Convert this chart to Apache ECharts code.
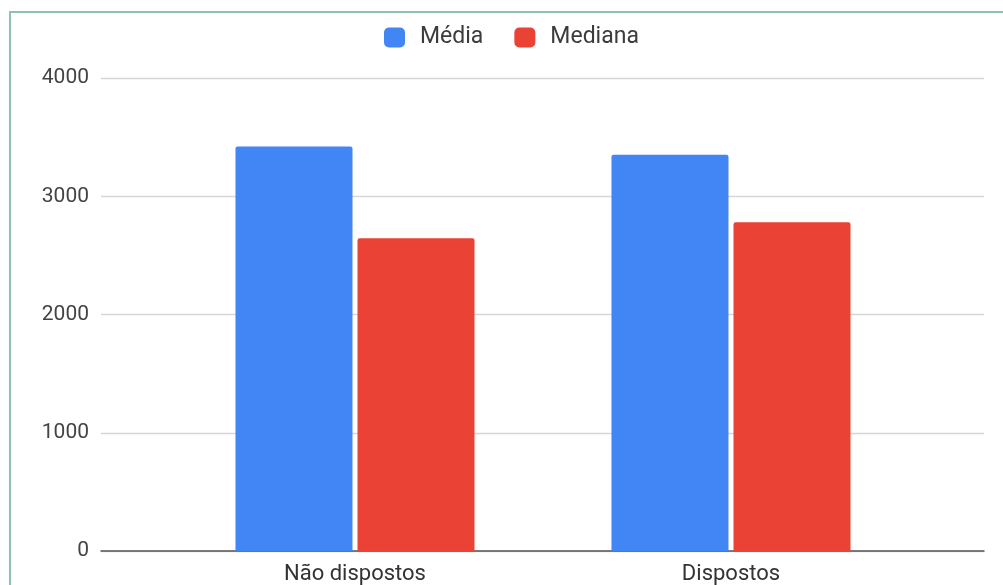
<!DOCTYPE html>
<html>
<head>
<meta charset="utf-8">
<script src="https://cdn.jsdelivr.net/npm/echarts@6/dist/echarts.min.js"></script>
<style>
  html, body { margin: 0; padding: 0; background: #fff; }
  #chart { position: absolute; left: 0; top: 0; width: 1003px; height: 585px; }
  #frame {
    position: absolute; left: 9px; top: 11px; right: 0; bottom: 0;
    border-left: 2px solid #93c0b5; border-top: 2px solid #93c0b5;
    pointer-events: none;
  }
</style>
</head>
<body>
<div id="chart"></div>
<div id="frame"></div>
<script>
// Groups and values
const categories = ['Não dispostos', 'Dispostos'];
const seriesNames = ['Média', 'Mediana'];
const mediaValues = [3420, 3350];
const medianaValues = [2645, 2780];
const yTicks = [0, 1000, 2000, 3000, 4000];

const colors = ['#4285f4', '#ea4335'];
const font = 'Roboto, "Noto Sans", Arial, sans-serif';

const chart = echarts.init(document.getElementById('chart'), null, { renderer: 'canvas' });

const yMin = yTicks[0];
const yMax = yTicks[yTicks.length - 1];
const yStep = yTicks[1] - yTicks[0];

chart.setOption({
  animation: false,
  color: colors,
  legend: {
    top: 21,
    left: 379,
    itemWidth: 21,
    itemHeight: 20,
    itemGap: 31,
    icon: 'roundRect',
    textStyle: { fontFamily: font, fontSize: 23, color: '#3c3c3c', padding: [0, 0, 0, 10] },
    data: seriesNames
  },
  grid: [
    // full-width plot area carrying gridlines, y labels and baseline
    { left: 101, right: 19, top: 78, bottom: 34 },
    // area holding the bar groups
    { left: 167, right: 84, top: 78, bottom: 34 }
  ],
  xAxis: [
    {
      type: 'category', gridIndex: 0, data: [''],
      axisLine: { show: true, lineStyle: { color: '#555', width: 1.5 } },
      axisTick: { show: false }, axisLabel: { show: false }, splitLine: { show: false }
    },
    {
      type: 'category', gridIndex: 1, data: categories,
      axisLine: { show: false }, axisTick: { show: false },
      axisLabel: { fontFamily: font, fontSize: 22, color: '#333', margin: 12 }
    }
  ],
  yAxis: [
    {
      type: 'value', gridIndex: 0, min: yMin, max: yMax, interval: yStep,
      axisLine: { show: false }, axisTick: { show: false },
      axisLabel: {
        fontFamily: font, fontSize: 21, color: '#444', margin: 12,
        formatter: (v) => String(v)
      },
      splitLine: { lineStyle: { color: '#d6d6d6', width: 1.3 } }
    },
    {
      type: 'value', gridIndex: 1, min: yMin, max: yMax, interval: yStep,
      axisLine: { show: false }, axisTick: { show: false },
      axisLabel: { show: false }, splitLine: { show: false }
    }
  ],
  series: [
    {
      name: seriesNames[0], type: 'bar', xAxisIndex: 1, yAxisIndex: 1,
      data: mediaValues, barWidth: 117, barGap: '4.3%',
      itemStyle: { color: colors[0], borderRadius: [2, 2, 0, 0] }
    },
    {
      name: seriesNames[1], type: 'bar', xAxisIndex: 1, yAxisIndex: 1,
      data: medianaValues, barWidth: 117, barGap: '4.3%',
      itemStyle: { color: colors[1], borderRadius: [2, 2, 0, 0] }
    }
  ]
});
</script>
</body>
</html>
